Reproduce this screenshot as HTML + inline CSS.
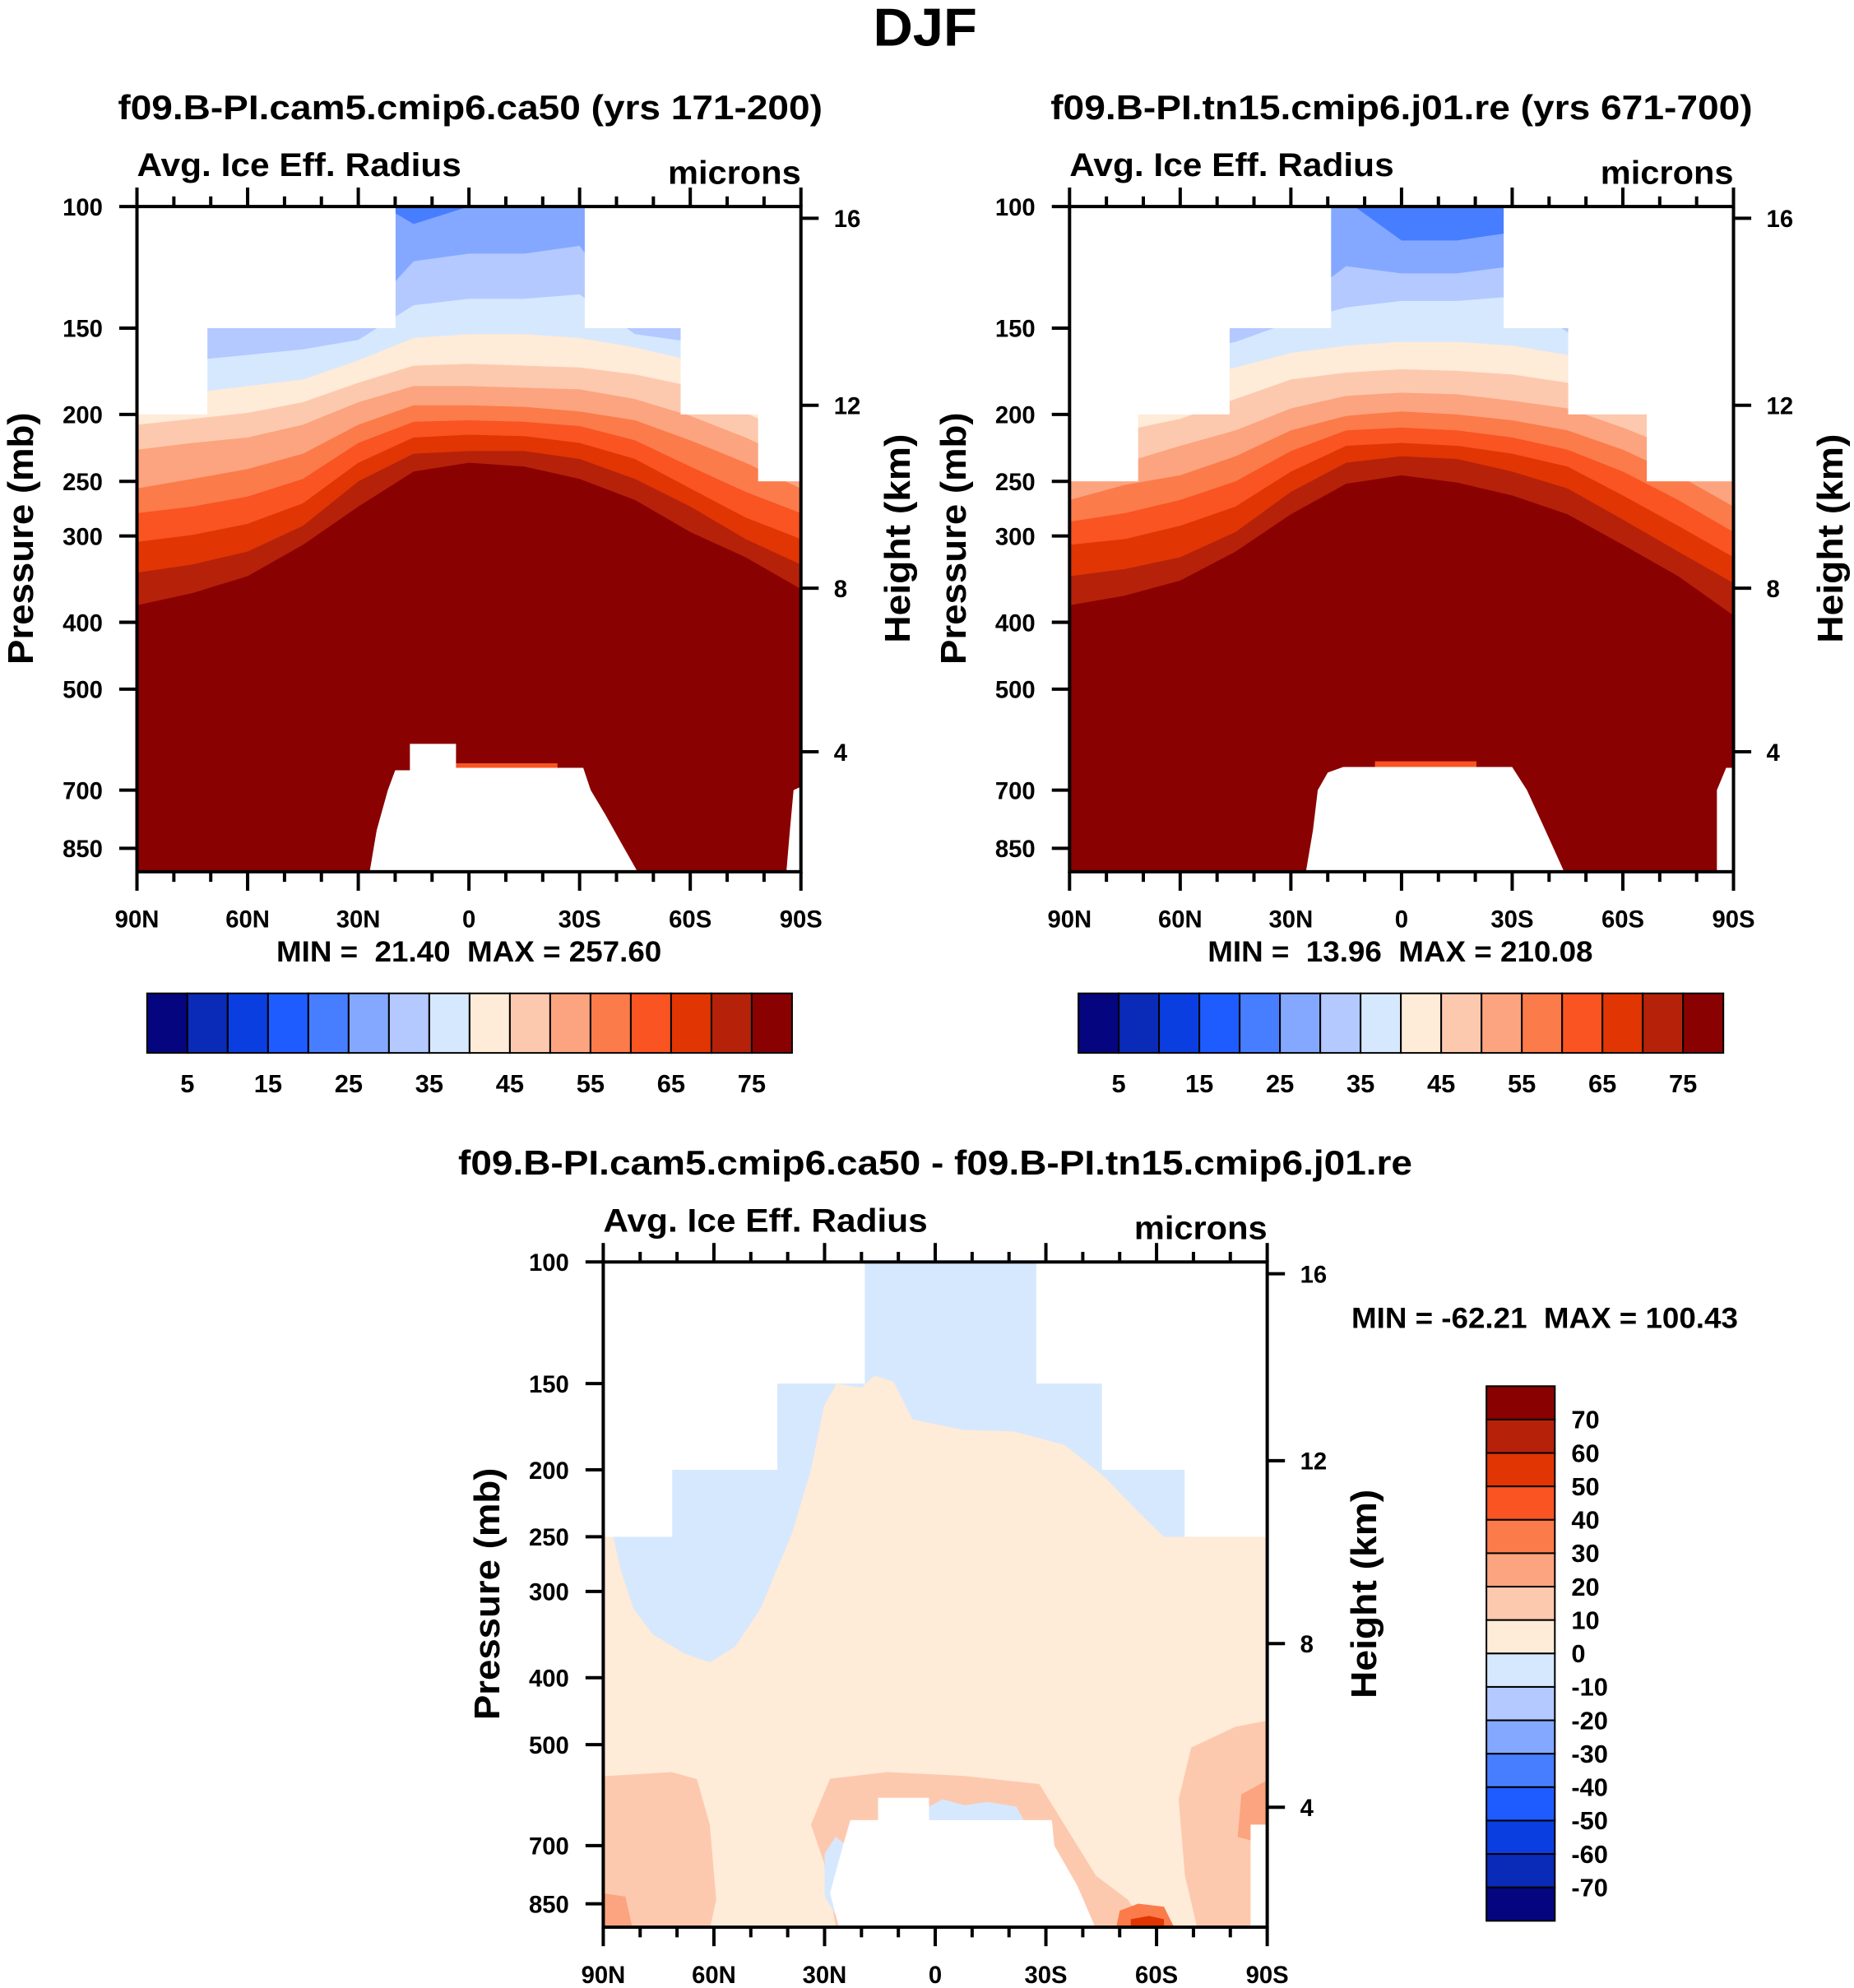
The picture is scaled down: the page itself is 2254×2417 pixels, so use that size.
<!DOCTYPE html>
<html><head><meta charset="utf-8"><style>
html,body{margin:0;padding:0;background:#fff;}
svg{display:block;}
text{font-family:"Liberation Sans",Arial,sans-serif;font-weight:bold;fill:#000;}
</style></head><body>
<svg id="fig" xmlns="http://www.w3.org/2000/svg" width="2254" height="2417" viewBox="0 0 1463 1569">
<rect x="0" y="0" width="1463" height="1569" fill="#fff"/>
<text x="730" y="36" font-size="42" text-anchor="middle" textLength="82" lengthAdjust="spacingAndGlyphs">DJF</text>
</svg>
<script>
// ---------- data ----------
const LATS=[90,75,60,45,30,15,0,-15,-30,-45,-60,-75,-90];
const COLORS=["#050580","#0a2ab8","#0b3ee0","#1e5cff","#477eff","#84a8ff","#b3c9ff","#d6e8fe","#feebd8","#fdc9ae","#fca47f","#fc7b4a","#f95422","#e13504","#b6210a","#8a0101"];
const CB1_LABELS=["5","15","25","35","45","55","65","75"];
const CB3_LABELS=["70","60","50","40","30","20","10","0","-10","-20","-30","-40","-50","-60","-70"];
const P_TICKS=[100,150,200,250,300,400,500,700,850];
const H_TICK_P=[104,194,357,616];
const H_TICK_LABELS=["16","12","8","4"];
const LAT_TICKS=[90,60,30,0,-30,-60,-90];
const LAT_TICK_LABELS=["90N","60N","30N","0","30S","60S","90S"];

// panel 1 level boundaries (mb), level k = top of band k
const p1Lvl5=[95,95,95,95,95,106,100,98,98,95,95,95,95];
const p1Lvl6=[147,147,147,147,147,120,117,117,114,147,147,147,147];
const p1Lvl7=[178,167,164,161,156,139,136,136,134,153,157,171,186];
const p1Lvl8=[194,186,182,178,167,155,153,153,155,160,167,178,203];
const p1Lvl9=[207,203,199,192,180,170,169,170,171,175,182,199,216];
const p1Lvl10=[225,220,216,207,192,182,182,183,184,190,201,216,235];
const p1Lvl11=[256,248,240,228,207,194,194,195,198,204,218,235,256];
const p1Lvl12=[278,272,263,248,220,205,204,205,208,218,238,259,278];
const p1Lvl13=[306,299,288,269,235,216,214,215,220,232,256,282,303];
const p1Lvl14=[339,330,316,290,250,228,226,226,232,248,272,303,330];
const p1Lvl15=[378,363,343,309,272,242,235,238,248,266,296,322,358];
const p1MaskEdges=[90,71,20,-31.5,-57.5,-78.5,-90];
const p1MaskTops=[200,150,100,150,200,250];
const p1TopoLat=[27,25,22,20,16,16,3.5,3.5,-10,-31,-33,-37,-41,-46];
const p1TopoP=[925,800,700,655,655,600,600,650,650,650,700,760,830,925];
const p1PoleLat=[-86,-87,-88,-90.5,-90.5];
const p1PoleP=[925,800,700,690,925];
const p1StreakLat=[3.5,-24,-24,3.5];
const p1StreakP=[640,640,652,652];

// panel 2
const p2Lvl5=[95,95,95,95,95,98,112,112,109,95,95,95,95];
const p2Lvl6=[140,140,140,140,140,122,125,125,122,140,140,140,140];
const p2Lvl7=[178,171,164,157,147,140,137,137,135,152,157,167,194];
const p2Lvl8=[207,186,178,171,163,159,157,157,159,164,171,182,207];
const p2Lvl9=[225,211,203,190,178,174,172,173,175,180,188,203,230];
const p2Lvl10=[245,235,222,211,196,188,186,187,191,196,209,225,250];
const p2Lvl11=[266,253,245,230,211,201,198,200,204,211,225,245,272];
const p2Lvl12=[286,278,266,250,226,211,209,211,216,225,242,266,296];
const p2Lvl13=[309,303,290,272,242,222,220,222,228,238,262,290,322];
const p2Lvl14=[343,335,322,296,259,235,230,232,242,256,284,316,351];
const p2Lvl15=[378,366,348,316,279,252,245,251,262,279,309,343,391];
const p2MaskEdges=[90,71.5,46.7,19.2,-27.8,-45.3,-66.6,-90];
const p2MaskTops=[250,200,150,100,150,200,250];
const p2TopoLat=[26,24,22.7,20,15.8,-30,-34,-39,-44.3];
const p2TopoP=[925,800,700,660,648,648,700,800,925];
const p2PoleLat=[-85.5,-85.5,-88,-90.5,-90.5];
const p2PoleP=[925,700,650,650,925];
const p2StreakLat=[7.2,-20.3,-20.3,7.2];
const p2StreakP=[636,636,648,648];

// panel 3 (difference)
const p3MaskEdges=[90,71.4,42.9,19.2,-27.5,-45.3,-67.7,-90];
const p3MaskTops=[250,200,150,100,150,200,250];
const p3NegLat=[87.3,87.3,-70,-70,-62,-55,-46,-43.6,-35,-21.3,-7.6,6.2,11.3,16.5,20,26.8,30.2,33.7,38.8,47.4,54.3,61.1,68,76.6,81.8,85.2];
const p3NegP=[250,90,90,250,250,230,205,200,184,176,175,169,149,146,152,150,162,200,247,318,361,380,369,346,318,280];
const p3PosLeftLat=[91,71.4,64.6,61.1,59.4,61.1,91];
const p3PosLeftP=[556,548,561,653,838,925,925];
const p3PosMidLat=[33.7,28.5,12.9,-7.6,-28.2,-35,-43.6,-52.2,-57.4,26.8,30.2];
const p3PosMidP=[653,560,548,555,570,653,774,838,925,925,740];
const p3PosRightLat=[-90.5,-81.4,-69.4,-66,-67.7,-71.1,-90.5];
const p3PosRightP=[461,471,505,600,774,925,925];
const p3Pos20RightLat=[-90.5,-83,-82,-90.5];
const p3Pos20RightP=[561,590,680,700];
const p3Pos20SpotLat=[-50,-55,-62,-65,-49];
const p3Pos20SpotP=[870,850,858,925,925];
const p3Pos40SpotLat=[-53,-58,-62,-62,-53];
const p3Pos40SpotP=[895,885,895,925,925];
const p3Pos20LeftLat=[90.5,84,82,90.5];
const p3Pos20LeftP=[820,830,925,925];
const p3NegSpotLat=[1.7,-2,-8,-14,-22,-24,1.7];
const p3NegSpotP=[615,600,612,605,615,643,643];
const p3NegSlopeLat=[30,27,24,23,26,30];
const p3NegSlopeP=[720,680,700,830,900,830];
const p3TopoLat=[26,28.5,25,23,15.5,15.5,1.7,1.7,-31.6,-32.3,-38.5,-43.6];
const p3TopoP=[925,820,700,643,643,597,597,643,643,700,800,925];
const p3PoleLat=[-85.5,-85.5,-90.5,-90.5];
const p3PoleP=[925,653,653,925];

// ---------- drawing ----------
const NS="http://www.w3.org/2000/svg";
const svg=document.getElementById("fig");
function el(tag,attrs,parent){const e=document.createElementNS(NS,tag);for(const k in attrs)e.setAttribute(k,attrs[k]);(parent||svg).appendChild(e);return e;}
function txt(s,attrs,parent){const t=el("text",attrs,parent);t.textContent=s;return t;}

function makePanel(id,x0,y0){
  const P={x0:x0,y0:y0,w:524,h:525};
  P.x=lat=>P.x0+(90-lat)/180*P.w;
  P.y=p=>P.y0+Math.log10(p/100)*545;
  P.pBot=100*Math.pow(10,P.h/545);
  const cp=el("clipPath",{id:"clip"+id});
  el("rect",{x:x0,y:y0,width:P.w,height:P.h},cp);
  P.g=el("g",{"clip-path":"url(#clip"+id+")"});
  
  
  return P;
}
function polyPts(P,lats,ps){return lats.map((l,i)=>P.x(l).toFixed(1)+","+P.y(ps[i]).toFixed(1)).join(" ");}
function fillPoly(P,lats,ps,color,name){
  const e=el("polygon",{points:polyPts(P,lats,ps),fill:color},P.g);
  
  
  return e;
}
function levelFill(P,b,color,name){
  const lats2=[90.5].concat(LATS).concat([-90.5,-90.5,90.5]);
  const ps2=[b[0]].concat(b).concat([b[b.length-1],P.pBot+10,P.pBot+10]);
  return fillPoly(P,lats2,ps2,color,name);
}
function maskTop(P,edges,tops,name){
  for(let i=0;i<tops.length;i++){
    const xa=P.x(edges[i]),xb=P.x(edges[i+1]);
    const r=el("rect",{x:Math.min(xa,xb)-0.3,y:P.y0-2,width:Math.abs(xb-xa)+0.6,height:P.y(tops[i])-P.y0+2,fill:"#fff"},P.g);
    
    
  }
}
function axes(P,id){
  const lw=2.6;
  const f=el("rect",{x:P.x0,y:P.y0,width:P.w,height:P.h,fill:"none",stroke:"#000","stroke-width":lw});
  
  
  for(let lat=90;lat>=-90;lat-=10){
    const major=lat%30===0;const L=major?15:8;const x=P.x(lat);
    el("line",{x1:x,y1:P.y0,x2:x,y2:P.y0-L,stroke:"#000","stroke-width":lw});
    el("line",{x1:x,y1:P.y0+P.h,x2:x,y2:P.y0+P.h+L,stroke:"#000","stroke-width":lw});
  }
  LAT_TICKS.forEach((lat,i)=>{
    const t=txt(LAT_TICK_LABELS[i],{x:P.x(lat),y:P.y0+P.h+44,"font-size":19,"text-anchor":"middle"});
    
    
  });
  P_TICKS.forEach(p=>{
    const y=P.y(p);
    el("line",{x1:P.x0,y1:y,x2:P.x0-14,y2:y,stroke:"#000","stroke-width":lw});
    const t=txt(String(p),{x:P.x0-27,y:y+7,"font-size":19,"text-anchor":"end"});
    
    
  });
  H_TICK_P.forEach((p,i)=>{
    const y=P.y(p);
    el("line",{x1:P.x0+P.w,y1:y,x2:P.x0+P.w+14,y2:y,stroke:"#000","stroke-width":lw});
    const t=txt(H_TICK_LABELS[i],{x:P.x0+P.w+26,y:y+7,"font-size":19});
    
    
  });
  const a=txt("Avg. Ice Eff. Radius",{x:P.x0,y:P.y0-24,"font-size":26,textLength:256,lengthAdjust:"spacingAndGlyphs"});
  
  
  const m=txt("microns",{x:P.x0+P.w,y:P.y0-18,"font-size":26,"text-anchor":"end",textLength:105,lengthAdjust:"spacingAndGlyphs"});
  
  
  const cy=P.y0+262;
  const yl=txt("Pressure (mb)",{x:0,y:0,"font-size":28,"text-anchor":"middle",textLength:199,lengthAdjust:"spacingAndGlyphs",transform:"translate("+(P.x0-82)+","+cy+") rotate(-90)"});
  
  
  const hl=txt("Height (km)",{x:0,y:0,"font-size":28,"text-anchor":"middle",textLength:165,lengthAdjust:"spacingAndGlyphs",transform:"translate("+(P.x0+P.w+86)+","+(cy)+") rotate(-90)"});
  
  
}
function hColorbar(x0,y0,w,h,id){
  const bw=w/16;
  for(let i=0;i<16;i++){
    const r=el("rect",{x:x0+i*bw,y:y0,width:bw,height:h,fill:COLORS[i],stroke:"#000","stroke-width":1.3});
    
    
  }
  CB1_LABELS.forEach((s,i)=>{
    const t=txt(s,{x:x0+(2*i+1)*bw,y:y0+h+31,"font-size":20,"text-anchor":"middle"});
    
    
  });
}

// Panel 1
const P1=makePanel("p1",108,163);
const L1=[p1Lvl5,p1Lvl6,p1Lvl7,p1Lvl8,p1Lvl9,p1Lvl10,p1Lvl11,p1Lvl12,p1Lvl13,p1Lvl14,p1Lvl15];
el("rect",{x:P1.x0,y:P1.y0,width:P1.w,height:P1.h,fill:COLORS[4]},P1.g);
L1.forEach((b,i)=>levelFill(P1,b,COLORS[5+i],"contour-band-"+(5+i)));
fillPoly(P1,p1StreakLat,p1StreakP,COLORS[12],"surface-streak");
maskTop(P1,p1MaskEdges,p1MaskTops,"missing-data-top");
fillPoly(P1,p1TopoLat,p1TopoP,"#fff","topography-mask");
fillPoly(P1,p1PoleLat,p1PoleP,"#fff","pole-mask");
axes(P1,"p1");
let t=txt("f09.B-PI.cam5.cmip6.ca50 (yrs 171-200)",{x:371,y:94,"font-size":27,"text-anchor":"middle",textLength:556,lengthAdjust:"spacingAndGlyphs"});


t=txt("MIN =\u00a0 21.40\u00a0 MAX = 257.60",{x:370,y:759,"font-size":23,"text-anchor":"middle",textLength:304,lengthAdjust:"spacingAndGlyphs"});


hColorbar(116,784,509,47,"p1");

// Panel 2
const P2=makePanel("p2",844,163);
const L2=[p2Lvl5,p2Lvl6,p2Lvl7,p2Lvl8,p2Lvl9,p2Lvl10,p2Lvl11,p2Lvl12,p2Lvl13,p2Lvl14,p2Lvl15];
el("rect",{x:P2.x0,y:P2.y0,width:P2.w,height:P2.h,fill:COLORS[4]},P2.g);
L2.forEach((b,i)=>levelFill(P2,b,COLORS[5+i],"contour-band-"+(5+i)));
fillPoly(P2,p2StreakLat,p2StreakP,COLORS[12],"surface-streak");
maskTop(P2,p2MaskEdges,p2MaskTops,"missing-data-top");
fillPoly(P2,p2TopoLat,p2TopoP,"#fff","topography-mask");
fillPoly(P2,p2PoleLat,p2PoleP,"#fff","pole-mask");
axes(P2,"p2");
t=txt("f09.B-PI.tn15.cmip6.j01.re (yrs 671-700)",{x:1106,y:94,"font-size":27,"text-anchor":"middle",textLength:554,lengthAdjust:"spacingAndGlyphs"});


t=txt("MIN =\u00a0 13.96\u00a0 MAX = 210.08",{x:1105,y:759,"font-size":23,"text-anchor":"middle",textLength:304,lengthAdjust:"spacingAndGlyphs"});


hColorbar(851,784,509,47,"p2");

// Panel 3
const P3=makePanel("p3",476,996);
el("rect",{x:P3.x0,y:P3.y0,width:P3.w,height:P3.h,fill:COLORS[8]},P3.g);
fillPoly(P3,p3NegLat,p3NegP,COLORS[7],"negative-region");
fillPoly(P3,p3PosLeftLat,p3PosLeftP,COLORS[9],"positive-region-left");
fillPoly(P3,p3PosMidLat,p3PosMidP,COLORS[9],"positive-region-center");
fillPoly(P3,p3PosRightLat,p3PosRightP,COLORS[9],"positive-region-right");
fillPoly(P3,p3Pos20RightLat,p3Pos20RightP,COLORS[10],"positive-20-right");
fillPoly(P3,p3Pos20LeftLat,p3Pos20LeftP,COLORS[10],"positive-20-left");
fillPoly(P3,p3Pos20SpotLat,p3Pos20SpotP,COLORS[11],"positive-30-spot");
fillPoly(P3,p3Pos40SpotLat,p3Pos40SpotP,COLORS[13],"positive-50-spot");
fillPoly(P3,p3NegSpotLat,p3NegSpotP,COLORS[7],"negative-spot");
fillPoly(P3,p3NegSlopeLat,p3NegSlopeP,COLORS[7],"negative-slope");
maskTop(P3,p3MaskEdges,p3MaskTops,"missing-data-top");
fillPoly(P3,p3TopoLat,p3TopoP,"#fff","topography-mask");
fillPoly(P3,p3PoleLat,p3PoleP,"#fff","pole-mask");
axes(P3,"p3");
t=txt("f09.B-PI.cam5.cmip6.ca50 - f09.B-PI.tn15.cmip6.j01.re",{x:738,y:927,"font-size":27,"text-anchor":"middle",textLength:753,lengthAdjust:"spacingAndGlyphs"});


t=txt("MIN = -62.21\u00a0 MAX = 100.43",{x:1219,y:1048,"font-size":23,"text-anchor":"middle",textLength:305,lengthAdjust:"spacingAndGlyphs"});


(function(){
  const x0=1173,y0=1094,w=54,H=422,bh=H/16;
  for(let i=0;i<16;i++){
    const r=el("rect",{x:x0,y:y0+i*bh,width:w,height:bh,fill:COLORS[15-i],stroke:"#000","stroke-width":1.3});
    
    
  }
  CB3_LABELS.forEach((s,i)=>{
    const tt=txt(s,{x:x0+w+13,y:y0+(i+1)*bh+7,"font-size":20});
    
    
  });
})();
</script>
</body></html>
